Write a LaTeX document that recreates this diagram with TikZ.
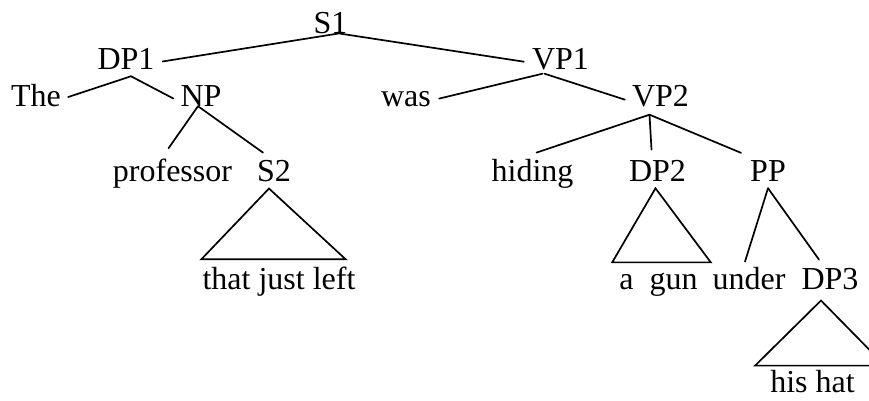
\documentclass[tikz,border=0pt]{standalone}
\usepackage{fontspec}
\setmainfont{Liberation Serif}

\begin{document}
\begin{tikzpicture}[
  x=1pt, y=-1pt,
  word/.style={
    inner sep=0pt,
    anchor=base,
    font=\fontsize{32}{38}\selectfont
  },
  branch/.style={line width=1.7pt, line cap=round},
  roof/.style={line width=1.7pt, line join=miter}
]
\clip (0,0) rectangle (869,400);

% Root and first split
\node[word] (s1) at (330.5,33) {S1};
\node[word] (dp1) at (126,69) {DP1};
\node[word] (vp1) at (560.5,69) {VP1};

% Subject
\node[word] (the) at (36,106) {The};
\node[word] (np) at (201,106) {NP};
\node[word] (prof) at (172.5,181) {professor};
\node[word] (s2) at (274,181) {S2};
\node[word] (tjl) at (279,289) {that just left};

% Predicate
\node[word] (was) at (406,106) {was};
\node[word] (vp2) at (660.5,106) {VP2};
\node[word] (hiding) at (532.5,181) {hiding};
\node[word] (dp2) at (657.5,181) {DP2};
\node[word] (pp) at (768,181) {PP};
\node[word] (agun) at (658.5,289) {a~~gun};
\node[word] (under) at (749,289) {under};
\node[word] (dp3) at (830,289) {DP3};
\node[word] (hishat) at (812.5,392) {his hat};

% Branches
\draw[branch] ([xshift=8pt]s1.south) -- ([xshift=8pt,yshift=-3pt]dp1.east);
\draw[branch] ([xshift=9pt]s1.south) -- ([xshift=-8pt,yshift=-3pt]vp1.west);
\draw[branch] ([xshift=5pt,yshift=-7pt]dp1.south) -- ([xshift=7pt,yshift=-2pt]the.east);
\draw[branch] ([xshift=5pt,yshift=-7pt]dp1.south) -- ([xshift=-7pt,yshift=-3pt]np.west);
\draw[branch] ([xshift=-3pt]np.south) -- ([xshift=-4pt,yshift=10pt]prof.north);
\draw[branch] ([xshift=-3pt]np.south) -- ([xshift=-11pt,yshift=7pt]s2.north);
\draw[branch] ([xshift=-18pt,yshift=-4pt]vp1.south) -- ([xshift=8pt]was.east);
\draw[branch] ([xshift=-16pt,yshift=-4pt]vp1.south) -- ([xshift=-7pt,yshift=-4pt]vp2.west);
\draw[branch] ([xshift=-11pt,yshift=-8pt]vp2.south) -- ([xshift=4pt,yshift=6pt]hiding.north);
\draw[branch] ([xshift=-11pt,yshift=-8pt]vp2.south) -- ([xshift=-6pt,yshift=10pt]dp2.north);
\draw[branch] ([xshift=-11pt,yshift=-8pt]vp2.south) -- ([xshift=-9pt,yshift=7pt]pp.north west);
\draw[branch] ([yshift=-7pt]pp.south) -- ([xshift=-4pt,yshift=5pt]under.north);
\draw[branch] ([yshift=-7pt]pp.south) -- ([xshift=-11pt,yshift=8pt]dp3.north);

% Roofs over unanalysed phrases
\draw[roof] ([xshift=-5pt,yshift=-7pt]s2.south) -- ([xshift=-1pt,yshift=7pt]tjl.north west)
  -- ([xshift=-10pt,yshift=7pt]tjl.north east) -- cycle;
\draw[roof] ([xshift=-2pt,yshift=-7pt]dp2.south) -- ([xshift=-7pt,yshift=10pt]agun.north west)
  -- ([xshift=13pt,yshift=10pt]agun.north east) -- cycle;
\draw[roof] ([xshift=-9pt,yshift=-11pt]dp3.south) -- ([xshift=-15pt,yshift=4pt]hishat.north west)
  -- ([xshift=30pt,yshift=4pt]hishat.north east) -- cycle;

\end{tikzpicture}
\end{document}
